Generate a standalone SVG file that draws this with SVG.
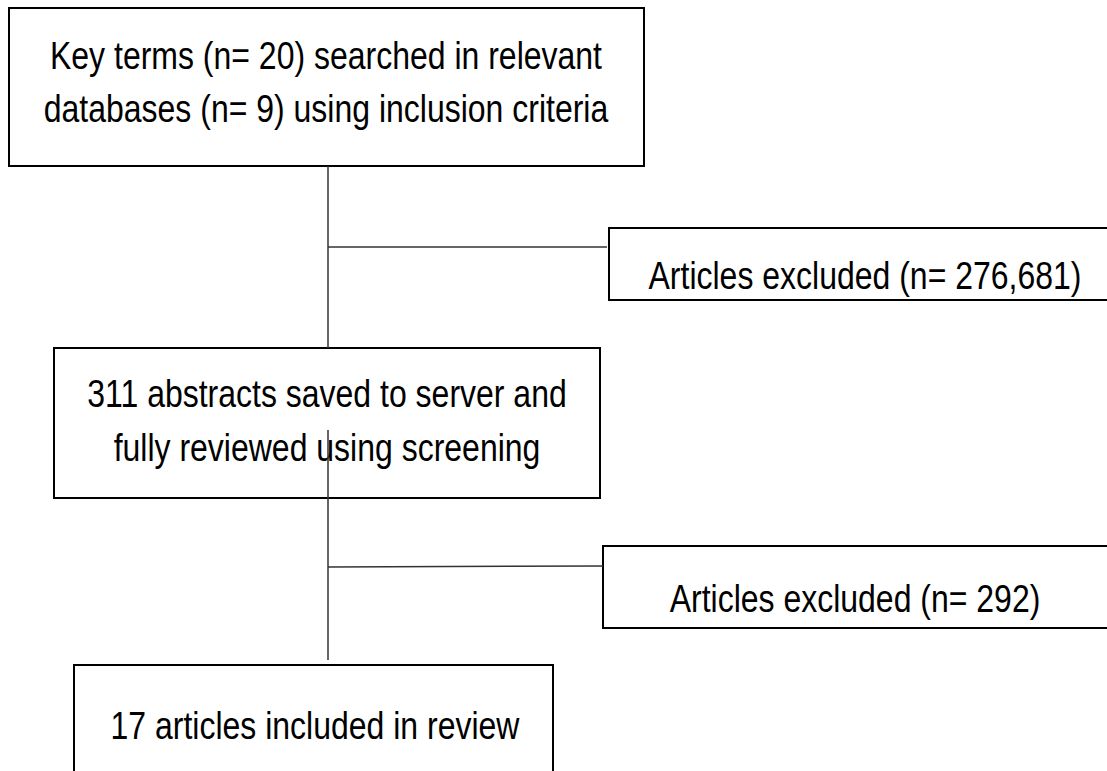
<svg xmlns="http://www.w3.org/2000/svg" width="1107" height="771" viewBox="0 0 1107 771">
<style>
.box{fill:#fff;stroke:#000;stroke-width:2}
.t{font-family:"Liberation Sans",Arial,sans-serif;font-size:32px;fill:#000;text-anchor:middle}
.c{stroke:#333;stroke-width:1.5;fill:none}
</style>
<rect width="1107" height="771" fill="#fff"/>
<g id="n1"><rect class="box" x="9" y="8" width="635" height="158"/>
<text class="t" transform="translate(326,69) scale(1,1.2)">Key terms (n= 20) searched in relevant</text>
<text class="t" transform="translate(326,122) scale(1,1.2)">databases (n= 9) using inclusion criteria</text></g>
<g id="n2"><rect class="box" x="609" y="228" width="510" height="72"/>
<text class="t" transform="translate(865,289) scale(1,1.2)">Articles excluded (n= 276,681)</text></g>
<g id="n3"><rect class="box" x="54" y="348" width="546" height="150"/>
<text class="t" transform="translate(327,407) scale(1,1.2)">311 abstracts saved to server and</text>
<text class="t" transform="translate(327,461) scale(1,1.2)">fully reviewed using screening</text></g>
<g id="n4"><rect class="box" x="603" y="546" width="516" height="82"/>
<text class="t" transform="translate(855,612) scale(1,1.2)">Articles excluded (n= 292)</text></g>
<g id="n5"><rect class="box" x="74" y="665" width="479" height="120"/>
<text class="t" transform="translate(315,739) scale(1,1.2)">17 articles included in review</text></g>
<g id="connectors">
<line class="c" x1="328" y1="166" x2="328" y2="348"/>
<line class="c" x1="328" y1="247" x2="607" y2="247"/>
<line class="c" x1="328" y1="430" x2="328" y2="660"/>
<line class="c" x1="328" y1="567" x2="603" y2="566"/>
</g>
</svg>
